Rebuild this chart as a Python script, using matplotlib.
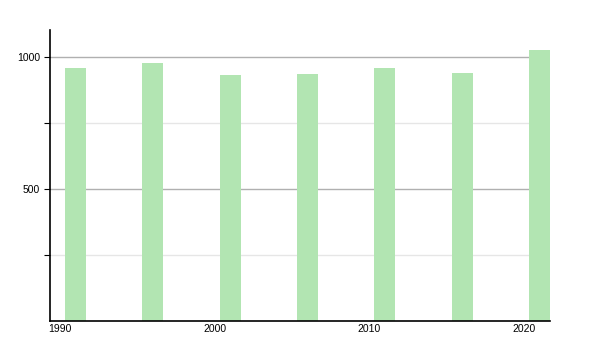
import matplotlib
matplotlib.use("Agg")
import matplotlib.pyplot as plt

years = [1991, 1996, 2001, 2006, 2011, 2016, 2021]
population = [957, 976, 932, 936, 957, 939, 1026]
xticks = [1990, 2000, 2010, 2020]
yticks_major = [500, 1000]
yticks_minor = [250, 750]

plt.rcParams['font.family'] = ['Liberation Sans', 'DejaVu Sans']

fig = plt.figure(figsize=(6, 3.5), dpi=100)
ax = fig.add_axes([50/600, 29/350, 500/600, 291/350])

ax.bar(years, population, width=1.36, color='#b2e5b2', zorder=2)

ax.set_xlim(1989.35, 2021.67)
ax.set_ylim(0, 1102)

ax.set_yticks(yticks_major)
ax.set_yticks(yticks_minor, minor=True)
ax.set_xticks(xticks)
ax.set_xticklabels([str(t) for t in xticks])
ax.set_yticklabels([str(t) for t in yticks_major])

for y in yticks_major:
    ax.axhline(y, color='#b0b0b0', lw=1, zorder=1)
for y in yticks_minor:
    ax.axhline(y, color='#e6e6e6', lw=1, zorder=1)

ax.spines['top'].set_visible(False)
ax.spines['right'].set_visible(False)
ax.spines['left'].set_linewidth(1.2)
ax.spines['bottom'].set_linewidth(1.2)

ax.tick_params(axis='y', which='both', length=4, width=0.8, labelsize=7.5, pad=3)
ax.tick_params(axis='x', length=0, labelsize=7.5, pad=2)

fig.savefig('out.png', dpi=100)
